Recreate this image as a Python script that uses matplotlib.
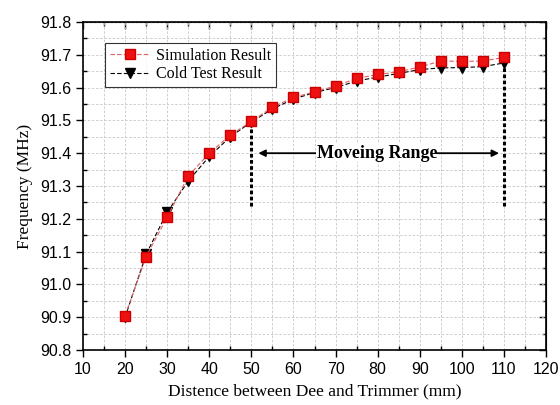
import numpy as np
import matplotlib
matplotlib.use("Agg")
import matplotlib.pyplot as plt
from matplotlib.ticker import MultipleLocator, FormatStrFormatter

# Data
distance = [20, 25, 30, 35, 40, 45, 50, 55, 60, 65, 70, 75, 80, 85, 90, 95, 100, 105, 110]
sim_freq = [90.905, 91.085, 91.205, 91.330, 91.400, 91.455, 91.497, 91.540, 91.570, 91.587,
            91.605, 91.628, 91.640, 91.648, 91.663, 91.681, 91.680, 91.681, 91.692]
cold_freq = [90.900, 91.092, 91.220, 91.315, 91.390, 91.450, 91.495, 91.535, 91.565, 91.585,
             91.600, 91.620, 91.632, 91.643, 91.655, 91.660, 91.661, 91.664, 91.675]

range_start = 50
range_end = 110
range_label = "Moveing Range"

serif = ["Liberation Serif", "DejaVu Serif"]
plt.rcParams["font.family"] = ["Liberation Sans", "DejaVu Sans"]

fig = plt.figure(figsize=(5.6, 4.05), dpi=100)
ax = fig.add_axes([83 / 560, 1 - 350 / 405, 463 / 560, 328 / 405])

ax.plot(distance, cold_freq, color="black", lw=0.8, ls=(0, (4, 2)),
        marker="v", ms=7, mfc="black", mec="black", label="Cold Test Result", zorder=3)
ax.plot(distance, sim_freq, color="#e06060", lw=0.8, ls=(0, (4, 2)),
        marker="s", ms=6.5, mfc="#ee1111", mec="#cc0000", label="Simulation Result", zorder=4)

# moving range markers
i0 = distance.index(range_start)
i1 = distance.index(range_end)
ax.plot([range_start, range_start], [91.24, sim_freq[i0]], color="black", lw=2.2, ls=(0, (1.2, 0.8)), zorder=2)
ax.plot([range_end, range_end], [91.24, cold_freq[i1]], color="black", lw=2.2, ls=(0, (1.2, 0.8)), zorder=2)
ax.annotate("", xy=(51, 91.40), xytext=(72, 91.40),
            arrowprops=dict(arrowstyle="-|>", color="black", lw=1.3, mutation_scale=10))
ax.annotate("", xy=(109.5, 91.40), xytext=(88, 91.40),
            arrowprops=dict(arrowstyle="-|>", color="black", lw=1.3, mutation_scale=10))
ax.text(79.8, 91.40, range_label, ha="center", va="center", fontsize=13,
        fontweight="bold", family=serif, zorder=5,
        bbox=dict(facecolor="white", edgecolor="none", pad=0.3))

ax.set_xlim(10, 120)
ax.set_ylim(90.8, 91.8)
ax.xaxis.set_major_locator(MultipleLocator(10))
ax.xaxis.set_minor_locator(MultipleLocator(5))
ax.yaxis.set_major_locator(MultipleLocator(0.1))
ax.yaxis.set_minor_locator(MultipleLocator(0.05))
ax.yaxis.set_major_formatter(FormatStrFormatter("%.1f"))

ax.grid(True, which="both", color="#c8c8c8", ls=(0, (3, 2)), lw=0.6)
ax.set_axisbelow(True)
for s in ax.spines.values():
    s.set_linewidth(1.2)

ax.tick_params(which="major", direction="out", length=5, width=1, labelsize=11.5)
ax.tick_params(which="minor", direction="in", length=3, width=1)

# inward ticks on top and right
top = ax.secondary_xaxis("top")
top.xaxis.set_major_locator(MultipleLocator(10))
top.xaxis.set_minor_locator(MultipleLocator(5))
top.tick_params(which="both", direction="in", labeltop=False, width=1)
top.tick_params(which="major", length=5)
top.tick_params(which="minor", length=3)
right = ax.secondary_yaxis("right")
right.yaxis.set_major_locator(MultipleLocator(0.1))
right.yaxis.set_minor_locator(MultipleLocator(0.05))
right.tick_params(which="both", direction="in", labelright=False, width=1)
right.tick_params(which="major", length=5)
right.tick_params(which="minor", length=3)

ax.set_xlabel("Distence between Dee and Trimmer (mm)", family=serif, fontsize=12.5, labelpad=5)
ax.set_ylabel("Frequency (MHz)", family=serif, fontsize=12.5, labelpad=5)

handles, labels = ax.get_legend_handles_labels()
leg = ax.legend(handles[::-1], labels[::-1], loc="upper left", bbox_to_anchor=(0.03, 0.96),
                prop={"family": serif, "size": 11.5}, frameon=True, fancybox=False,
                edgecolor="black", handlelength=2.5, borderpad=0.3, labelspacing=0.15,
                handletextpad=0.4)
leg.get_frame().set_linewidth(0.8)

fig.savefig("out.png", dpi=100)
